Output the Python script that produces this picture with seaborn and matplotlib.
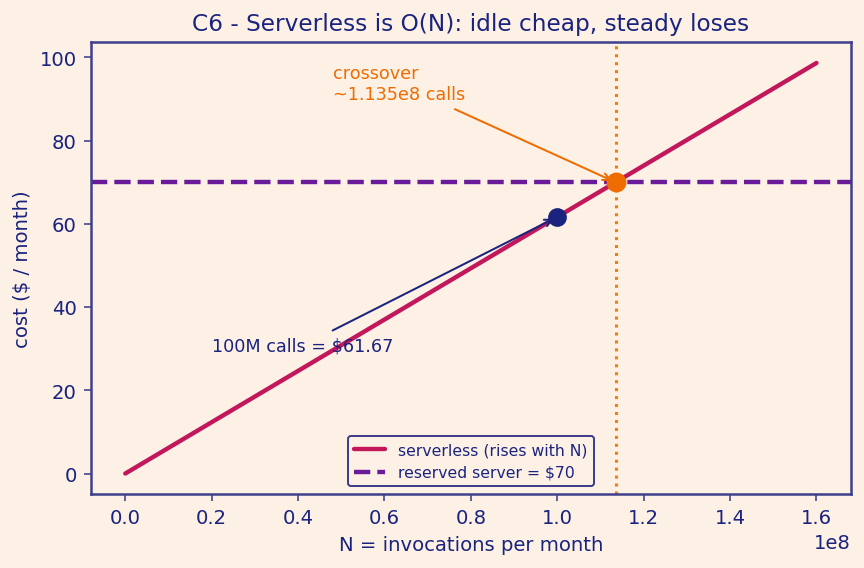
import numpy as np
import pandas as pd
import matplotlib
matplotlib.use("Agg")
import matplotlib.pyplot as plt
import seaborn as sns

# data
n_calls = [0, 1.6e8]
serverless_cost = [0.0, 98.67]
reserved_cost = 70
probe_n = 1.0e8
probe_cost = 61.67
cross_n = 1.135e8

bg = "#fdf1e6"
navy = "#1a237e"
spine = "#3f3f8c"
crimson = "#c2185b"
purple = "#6a1b9a"
orange = "#ef6c00"

sns.set_theme(style="white", rc={
    "axes.facecolor": bg, "figure.facecolor": bg,
    "axes.edgecolor": spine, "axes.labelcolor": navy,
    "xtick.color": spine, "ytick.color": spine,
    "xtick.labelcolor": navy, "ytick.labelcolor": navy, "text.color": navy,
})
plt.rcParams['font.family'] = ['DejaVu Sans']

fig, ax = plt.subplots(figsize=(6, 3.95), dpi=144)

df = pd.DataFrame({"N": n_calls, "cost": serverless_cost})
sns.lineplot(data=df, x="N", y="cost", ax=ax, color=crimson, lw=2.2,
             label="serverless (rises with N)")
ax.axhline(reserved_cost, color=purple, ls="--", lw=2.2, label="reserved server = $70")
ax.axvline(cross_n, color="#f57c00", ls=":", lw=1.5)

ax.scatter([cross_n], [reserved_cost], s=80, color=orange, zorder=5)
ax.scatter([probe_n], [probe_cost], s=70, color=navy, zorder=5)

ax.annotate("crossover\n~1.135e8 calls", xy=(cross_n, reserved_cost),
            xytext=(0.48e8, 90), color=orange, fontsize=8.8,
            arrowprops=dict(arrowstyle="->", color=orange, lw=1))
ax.annotate(f"100M calls = ${probe_cost}", xy=(probe_n, probe_cost),
            xytext=(0.2e8, 29.5), color=navy, fontsize=8.8,
            arrowprops=dict(arrowstyle="->", color=navy, lw=1))

ax.set_title("C6 - Serverless is O(N): idle cheap, steady loses", color=navy, fontsize=11.6)
ax.set_xlabel("N = invocations per month", fontsize=9.8)
ax.set_ylabel("cost ($ / month)", fontsize=9.8)
ax.tick_params(axis="both", labelsize=9.8, length=3.5, width=0.8, bottom=True, left=True)
ax.xaxis.get_offset_text().set_fontsize(9.8)
ax.xaxis.get_offset_text().set_color(navy)

leg = ax.legend(loc="lower center", bbox_to_anchor=(0.5, 0.0), fontsize=7.8,
                frameon=True, fancybox=True, facecolor=bg, edgecolor=spine, framealpha=1)
for t in leg.get_texts():
    t.set_color(navy)

fig.subplots_adjust(left=0.105, right=0.985, top=0.924, bottom=0.13)
fig.savefig("out.png", dpi=144)
